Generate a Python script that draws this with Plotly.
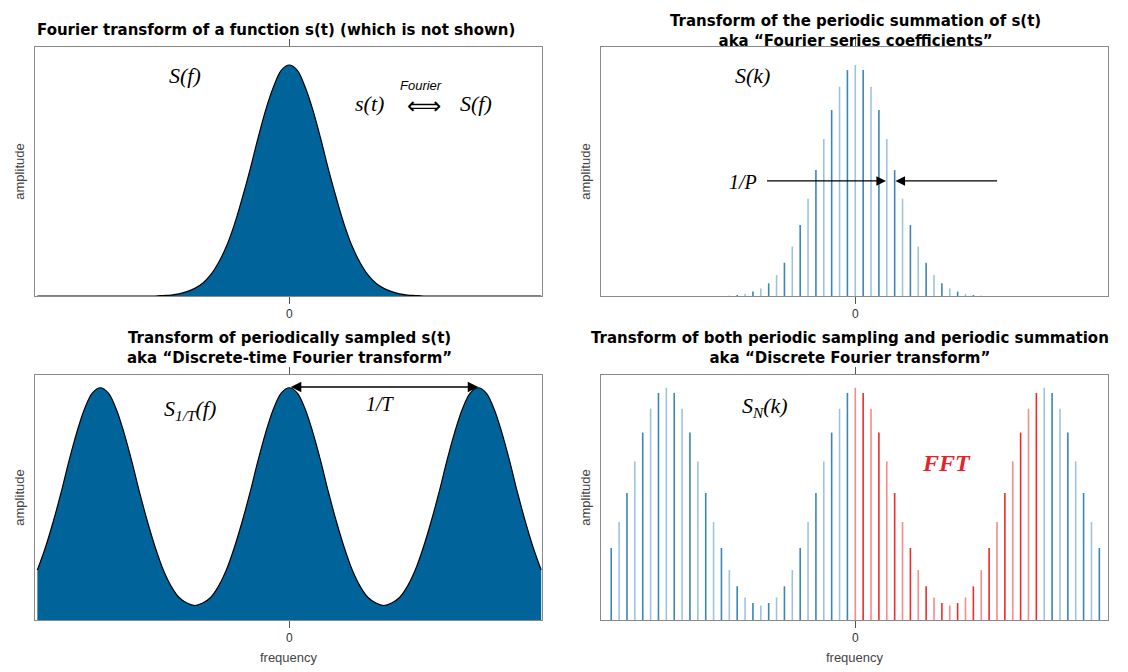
import plotly.graph_objects as go

# Fourier coefficient magnitudes S(k), k = 0..16 (symmetric)
S_half = [1.0, 0.978, 0.906, 0.805, 0.680, 0.545, 0.421, 0.307, 0.214, 0.144,
          0.091, 0.055, 0.033, 0.019, 0.009, 0.004, 0.002]
# DFT magnitudes S_N(k), k = 0..12 (period N = 24, symmetric)
SN_half = [1.0, 0.978, 0.910, 0.807, 0.683, 0.547, 0.422, 0.310, 0.215, 0.145,
           0.097, 0.073, 0.0625]
N = 24
K = list(range(-32, 33))
TICKS = [0]
TICK_TEXT = ["0"]

def S(k):
    return S_half[abs(k)] if abs(k) < len(S_half) else 0.0

def SN(k):
    j = k % N
    return SN_half[min(j, N - j)]

BLUE_FILL = "#00649a"
LIGHT = "#9dc4dd"
DARK = "#3a86b4"
RED = "#f02a2a"
LIGHTRED = "#f78a8a"

fig = go.Figure()

def stems(ks, vals, color, xa, ya):
    xs, ys = [], []
    for k, v in zip(ks, vals):
        xs += [k, k, None]
        ys += [0, v, None]
    fig.add_trace(go.Scatter(x=xs, y=ys, mode="lines", line=dict(color=color, width=1.6),
                             xaxis=xa, yaxis=ya, hoverinfo="skip", showlegend=False))

fig.add_trace(go.Scatter(x=K, y=[S(k) for k in K], mode="lines", fill="tozeroy",
                         fillcolor=BLUE_FILL, line=dict(color="black", width=1.2, shape="spline"),
                         xaxis="x", yaxis="y", showlegend=False))
kr = [k for k in range(-31, 32) if abs(k) < len(S_half)]
stems([k for k in kr if k % 2 == 0], [S(k) for k in kr if k % 2 == 0], LIGHT, "x2", "y2")
stems([k for k in kr if k % 2 != 0], [S(k) for k in kr if k % 2 != 0], DARK, "x2", "y2")
fig.add_trace(go.Scatter(x=K, y=[SN(k) for k in K], mode="lines", fill="tozeroy",
                         fillcolor=BLUE_FILL, line=dict(color="black", width=1.2, shape="spline"),
                         xaxis="x3", yaxis="y3", showlegend=False))
kb = list(range(-31, 32))
blue_k = [k for k in kb if not (0 <= k < N)]
red_k = [k for k in kb if 0 <= k < N]
stems([k for k in blue_k if k % 2 == 0], [SN(k) for k in blue_k if k % 2 == 0], LIGHT, "x4", "y4")
stems([k for k in blue_k if k % 2 != 0], [SN(k) for k in blue_k if k % 2 != 0], DARK, "x4", "y4")
stems([k for k in red_k if k % 2 == 0], [SN(k) for k in red_k if k % 2 == 0], LIGHTRED, "x4", "y4")
stems([k for k in red_k if k % 2 != 0], [SN(k) for k in red_k if k % 2 != 0], RED, "x4", "y4")

W, H = 1128, 672
xl = [35 / W, 542 / W]
xr = [601 / W, 1108 / W]
yt = [1 - 296 / H, 1 - 47 / H]
yb = [1 - 620 / H, 1 - 375 / H]
XR = [-32.3, 32.1]

def xax(dom, anchor, title=None):
    d = dict(domain=dom, anchor=anchor, range=XR, showgrid=False, zeroline=False,
             showline=True, mirror="allticks", linecolor="#8a8a8a", linewidth=1,
             ticks="outside", ticklen=7, tickcolor="#555", tickvals=TICKS, ticktext=TICK_TEXT,
             tickfont=dict(family="Liberation Sans", size=12, color="#333"))
    if title:
        d["title"] = dict(text=title, font=dict(family="Liberation Sans", size=13, color="#444"),
                          standoff=8)
    return d

def yax(dom, anchor, top):
    return dict(domain=dom, anchor=anchor, range=[0, top], showgrid=False, zeroline=False,
                showline=True, mirror=True, linecolor="#8a8a8a", showticklabels=False, ticks="",
                title=dict(text="amplitude", font=dict(family="Liberation Sans", size=13, color="#444"),
                           standoff=6))

ann = []
def txt(x, y, t, size=15, family="Liberation Sans", color="black"):
    ann.append(dict(x=x, y=y, xref="paper", yref="paper", text=t, showarrow=False,
                    xanchor="center", yanchor="middle",
                    font=dict(family=family, size=size, color=color)))

def px(xp, yp):
    return xp / W, 1 - yp / H

tf = "DejaVu Sans"
TS = 15
txt(*px(276, 30), "<b>Fourier transform of a function s(t) (which is not shown)</b>", size=TS, family=tf)
txt(*px(855, 31), "<b>Transform of the periodic summation of s(t)<br>aka “Fourier series coefficients”</b>", size=TS, family=tf)
txt(*px(289, 348), "<b>Transform of periodically sampled s(t)<br>aka “Discrete-time Fourier transform”</b>", size=TS, family=tf)
txt(*px(850, 348), "<b>Transform of both periodic sampling and periodic summation<br>aka “Discrete Fourier transform”</b>", size=TS, family=tf)

sf = "Liberation Serif"
txt(*px(185, 75), "<i>S(f)</i>", size=22, family=sf)
txt(*px(369, 103), "<i>s(t)</i>", size=22, family=sf)
txt(*px(421, 85), "<i>Fourier</i>", size=13, family="Liberation Sans")
txt(*px(424, 106), "⟺", size=24, family="DejaVu Sans")
txt(*px(476, 103), "<i>S(f)</i>", size=22, family=sf)
txt(*px(752, 75), "<i>S(k)</i>", size=22, family=sf)
txt(*px(743, 182), "<i>1/P</i>", size=20, family=sf)
txt(*px(190, 410), "<i>S<sub>1/T</sub>(f)</i>", size=22, family=sf)
txt(*px(381, 404), "<i>1/T</i>", size=20, family=sf)
txt(*px(765, 407), "<i>S<sub>N</sub>(k)</i>", size=22, family=sf)
txt(*px(946, 463), "<b><i>FFT</i></b>", size=24, family=sf, color="#e8202a")

ann.append(dict(x=3.9, y=0.498, ax=-11.4, ay=0.498, xref="x2", yref="y2", axref="x2", ayref="y2",
                showarrow=True, arrowhead=2, arrowsize=1.6, arrowwidth=1.2, arrowcolor="black", text=""))
ann.append(dict(x=5.1, y=0.498, ax=18.2, ay=0.498, xref="x2", yref="y2", axref="x2", ayref="y2",
                showarrow=True, arrowhead=2, arrowsize=1.6, arrowwidth=1.2, arrowcolor="black", text=""))
ann.append(dict(x=N, y=1.003, ax=0, ay=1.003, xref="x3", yref="y3", axref="x3", ayref="y3",
                showarrow=True, arrowhead=2, startarrowhead=2, arrowside="end+start",
                arrowsize=1.4, startarrowsize=1.4, arrowwidth=1.5, arrowcolor="black", text=""))

fig.update_layout(
    width=W, height=H, margin=dict(l=0, r=0, t=0, b=0),
    paper_bgcolor="white", plot_bgcolor="white", showlegend=False,
    xaxis=xax(xl, "y"), yaxis=yax(yt, "x", 1.078),
    xaxis2=xax(xr, "y2"), yaxis2=yax(yt, "x2", 1.078),
    xaxis3=xax(xl, "y3", "frequency"), yaxis3=yax(yb, "x3", 1.055),
    xaxis4=xax(xr, "y4", "frequency"), yaxis4=yax(yb, "x4", 1.055),
    annotations=ann,
)
fig.write_html("out.html", config={"displayModeBar": False},
               post_script="document.body.style.margin='0';document.body.style.overflow='hidden';")
